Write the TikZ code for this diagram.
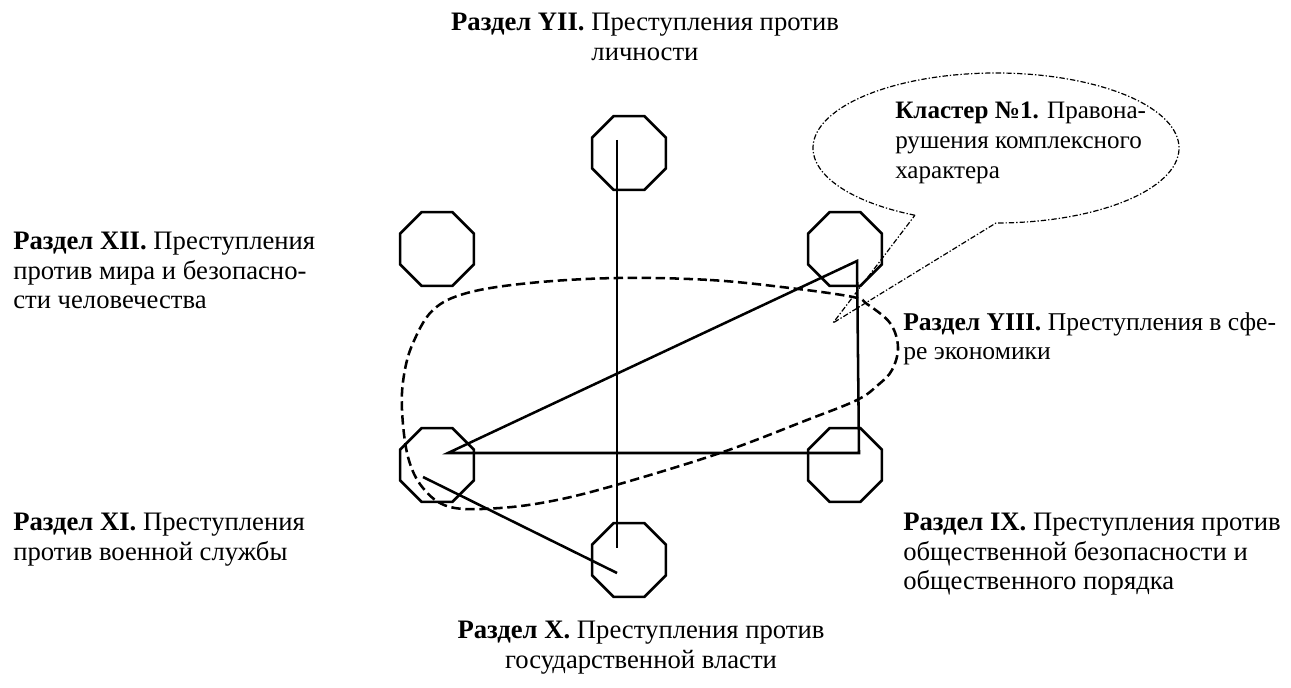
\documentclass[tikz,border=0pt]{standalone}
\usepackage{fontspec}
\setmainfont{Liberation Serif}
\usetikzlibrary{shapes.geometric,calc}

\begin{document}
\begin{tikzpicture}[x=0.75pt,y=-0.75pt,
  oct/.style={draw,line width=1.9pt,regular polygon,regular polygon sides=8,
    minimum size=60pt,inner sep=0pt},
  link/.style={line width=1.9pt},
  cluster/.style={line width=1.9pt,dash pattern=on 7pt off 3.5pt},
  bubble/.style={line width=0.9pt,dash pattern=on 4pt off 1.5pt on 1pt off 1.5pt},
  caption/.style={inner sep=0pt,font=\fontsize{20}{22.2}\selectfont},
  smallcaption/.style={caption,font=\fontsize{19.2}{22.2}\selectfont},
  bubbletext/.style={caption,font=\fontsize{18.8}{22.2}\selectfont}
]
\useasboundingbox (0,0) rectangle (1291,688);

% sections as octagons
\node[oct] (o7)  at (629,153) {};
\node[oct] (o12) at (437,249) {};
\node[oct] (o8)  at (845,249) {};
\node[oct] (o11) at (437,465) {};
\node[oct] (o9)  at (845,465) {};
\node[oct] (o10) at (629,560) {};

% link end points inside the octagons
\coordinate (a7)  at ([shift={(-12,-13)}]o7.center);
\coordinate (a10) at ([shift={(-12,-12)}]o10.center);
\coordinate (b11) at ([shift={(11,-12)}]o11.center);
\coordinate (b8)  at ([shift={(12,12)}]o8.center);
\coordinate (b9)  at ([shift={(14,-12)}]o9.center);
\coordinate (c11) at ([shift={(-14,12)}]o11.center);
\coordinate (c10) at ([shift={(-12,13)}]o10.center);

\draw[link] (a7) -- (a10);
\draw[link,line join=miter] (b11) -- (b8) -- (b9) -- cycle;
\draw[link] (c11) -- (c10);

% cluster outline
\draw[cluster] plot[smooth cycle,tension=0.6] coordinates {
  (617,278) (710,280) (790,288) (853,297) (867,304) (890,323) (898,347)
  (892,370) (878,385) (857,400) (807,420) (723,452) (623,483) (557,500)
  (500,508) (450,507) (423,488) (408,457) (402,410) (404,375) (413,343)
  (433,310) (467,293) (530,283)};

% speech bubble of the cluster
\coordinate (bc)  at (996,148);
\coordinate (tip) at (833,323);
\draw[bubble] (bc) ++(116.3:183 and 75)
  arc[start angle=116.3,end angle=450,x radius=183,y radius=75]
  -- (tip) -- cycle;

\node[bubbletext,anchor=north west,align=left] (k1) at (895,102)
  {\textbf{Кластер №1.} Правона-\\рушения комплексного\\характера};

% section captions
\node[caption,anchor=north,align=center] (t7) at (645,13)
  {\textbf{Раздел YII.} Преступления против\\личности};
\node[caption,anchor=north west,align=left] (t12) at (13,232)
  {\textbf{Раздел XII.} Преступления\\против мира и безопасно-\\сти человечества};
\node[smallcaption,anchor=north west,align=left] (t8) at (903,312)
  {\textbf{Раздел YIII.} Преступления в сфе-\\ре экономики};
\node[caption,anchor=north west,align=left] (t11) at (13,513)
  {\textbf{Раздел XI.} Преступления\\против военной службы};
\node[caption,anchor=north west,align=left] (t9) at (903,513)
  {\textbf{Раздел IX.} Преступления против\\общественной безопасности и\\общественного порядка};
\node[caption,anchor=north,align=center] (t10) at (641,621)
  {\textbf{Раздел X.} Преступления против\\государственной власти};
\end{tikzpicture}
\end{document}
